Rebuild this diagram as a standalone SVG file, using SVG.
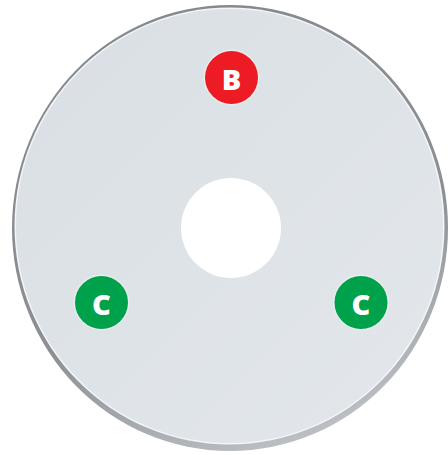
<svg xmlns="http://www.w3.org/2000/svg" width="448" height="455" viewBox="0 0 448 455">
  <defs>
    <linearGradient id="face" x1="0" y1="0" x2="1" y2="1">
      <stop offset="0" stop-color="#d9dfe4"/>
      <stop offset="1" stop-color="#e3e7eb"/>
    </linearGradient>
    <linearGradient id="rim" x1="0.3" y1="0" x2="0.7" y2="1">
      <stop offset="0" stop-color="#85888d"/>
      <stop offset="0.6" stop-color="#8c8f94"/>
      <stop offset="1" stop-color="#c0c3c7"/>
    </linearGradient>
    <filter id="soft" x="-10%" y="-10%" width="120%" height="120%">
      <feGaussianBlur stdDeviation="0.7"/>
    </filter>
    <style>
      .badge-ring { fill: #e9edf0; }
      .lbl { font-family: "Open Sans", "Liberation Sans", sans-serif; font-weight: 800; font-size: 29px; fill: #ffffff; text-anchor: middle; dominant-baseline: central; }
    </style>
  </defs>
  <rect width="448" height="455" fill="#ffffff"/>
  <g id="disc">
    <ellipse cx="230" cy="228" rx="218" ry="223" fill="url(#rim)" filter="url(#soft)"/>
    <ellipse cx="229.5" cy="226" rx="215" ry="218.5" fill="#f3f5f7"/>
    <ellipse cx="229.5" cy="226" rx="213.5" ry="217" fill="url(#face)"/>
    <circle id="hole" cx="231" cy="228" r="50" fill="#ffffff"/>
  </g>
  <g id="node-b">
    <circle class="badge-ring" cx="231.5" cy="77.5" r="28"/>
    <circle cx="231.5" cy="77.5" r="26.5" fill="#ed1c24"/>
    <text class="lbl" x="231.5" y="78">B</text>
  </g>
  <g id="node-c-left">
    <circle class="badge-ring" cx="101.5" cy="302.5" r="28"/>
    <circle cx="101.5" cy="302.5" r="26.5" fill="#00a14b"/>
    <text class="lbl" x="101.5" y="303">C</text>
  </g>
  <g id="node-c-right">
    <circle class="badge-ring" cx="361" cy="302.5" r="28"/>
    <circle cx="361" cy="302.5" r="26.5" fill="#00a14b"/>
    <text class="lbl" x="361" y="303">C</text>
  </g>
  <g id="connectors"/>
</svg>
